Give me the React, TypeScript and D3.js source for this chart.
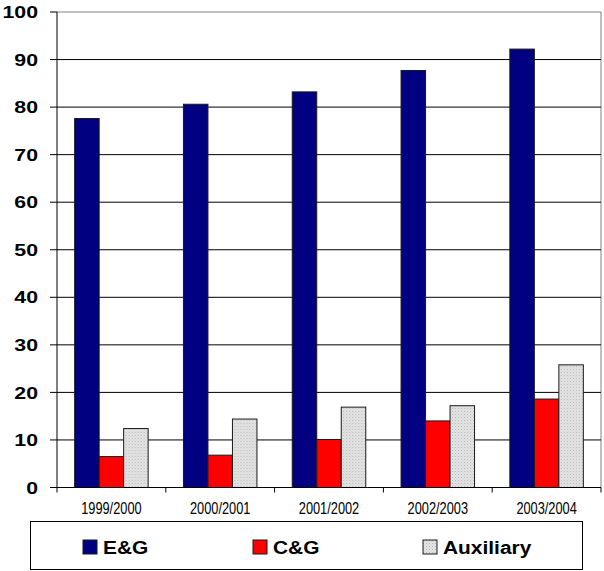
import React from "react";
import * as d3 from "d3";

const categories = ["1999/2000", "2000/2001", "2001/2002", "2002/2003", "2003/2004"];
const seriesNames = ["E&G", "C&G", "Auxiliary"];
const egValues = [77.6, 80.6, 83.2, 87.7, 92.2];
const cgValues = [6.5, 6.8, 10.1, 14.0, 18.6];
const auxValues = [12.4, 14.4, 16.9, 17.2, 25.8];
const yTicks = [0, 10, 20, 30, 40, 50, 60, 70, 80, 90, 100];

const seriesColors = ["#000080", "#FF0000", "url(#auxPattern)"];

export default function App() {
  const W = 604, H = 571;
  const left = 57, right = 601, top = 12, bottom = 487.5;
  const y = d3.scaleLinear().domain([0, 100]).range([bottom, top]);
  const x = d3.scaleBand<string>().domain(categories).range([left, right]).paddingInner(0).paddingOuter(0);
  const groupW = 73.5;
  const inner = d3.scaleBand<string>().domain(seriesNames).range([0, groupW]);
  const allSeries = [egValues, cgValues, auxValues];
  const font = "Arial, 'Liberation Sans', sans-serif";
  const legendX = [83, 253, 423];

  return (
    <svg width={W} height={H} style={{ position: "absolute", left: 0, top: 0, background: "#fff" }}>
      <defs>
        <pattern id="auxPattern" width="3" height="3" patternUnits="userSpaceOnUse">
          <rect width="3" height="3" fill="#e4e4e4" />
          <rect x="0" y="0" width="1" height="1" fill="#b8b8b8" />
          <rect x="1.5" y="1.5" width="1" height="1" fill="#c8c8c8" />
        </pattern>
      </defs>
      {/* plot border */}
      <line x1={left} x2={right} y1={top} y2={top} stroke="#808080" strokeWidth={1} />
      <line x1={right} x2={right} y1={top} y2={bottom} stroke="#808080" strokeWidth={1} />
      {/* gridlines */}
      {yTicks.filter(t => t > 0 && t < 100).map(t => (
        <line key={t} x1={left} x2={right} y1={y(t)} y2={y(t)} stroke="#000" strokeWidth={1} />
      ))}
      {/* bars */}
      {categories.map((c, i) => (
        <g key={c} transform={`translate(${(x(c) as number) + (x.bandwidth() - groupW) / 2},0)`}>
          {seriesNames.map((s, j) => (
            <rect
              key={s}
              x={inner(s) as number}
              y={y(allSeries[j][i])}
              width={inner.bandwidth()}
              height={bottom - y(allSeries[j][i])}
              fill={seriesColors[j]}
              stroke="#1a1a1a"
              strokeWidth={1}
            />
          ))}
        </g>
      ))}
      {/* axes */}
      <line x1={left} x2={left} y1={top} y2={bottom + 5} stroke="#000" strokeWidth={1} />
      <line x1={left} x2={right} y1={bottom} y2={bottom} stroke="#000" strokeWidth={1} />
      {yTicks.map(t => (
        <g key={t}>
          <line x1={left - 7} x2={left} y1={y(t)} y2={y(t)} stroke="#000" strokeWidth={1} />
          <g transform={`translate(38,${y(t)}) scale(1.25,1)`}>
            <text x={0} y={0} dy="0.36em" textAnchor="end" fontFamily={font} fontWeight="bold" fontSize={17} fill="#000">
              {t}
            </text>
          </g>
        </g>
      ))}
      {categories.map(c => (
        <g key={c}>
          <line x1={(x(c) as number) + x.bandwidth()} x2={(x(c) as number) + x.bandwidth()} y1={bottom} y2={bottom + 5} stroke="#000" strokeWidth={1} />
          <g transform={`translate(${(x(c) as number) + x.bandwidth() / 2},514) scale(0.8,1)`}>
            <text x={0} y={0} textAnchor="middle" fontFamily={font} fontSize={16} fill="#000">
              {c}
            </text>
          </g>
        </g>
      ))}
      {/* legend */}
      <rect x={30.5} y={521.5} width={552} height={48} fill="#fff" stroke="#000" strokeWidth={1} />
      {seriesNames.map((s, j) => (
        <g key={s}>
          <rect x={legendX[j]} y={540} width={14} height={14} fill={seriesColors[j]} stroke="#1a1a1a" strokeWidth={1} />
          <g transform={`translate(${legendX[j] + 20},554) scale(1.1,1)`}>
            <text x={0} y={0} fontFamily={font} fontWeight="bold" fontSize={19} fill="#000">
              {s}
            </text>
          </g>
        </g>
      ))}
    </svg>
  );
}
